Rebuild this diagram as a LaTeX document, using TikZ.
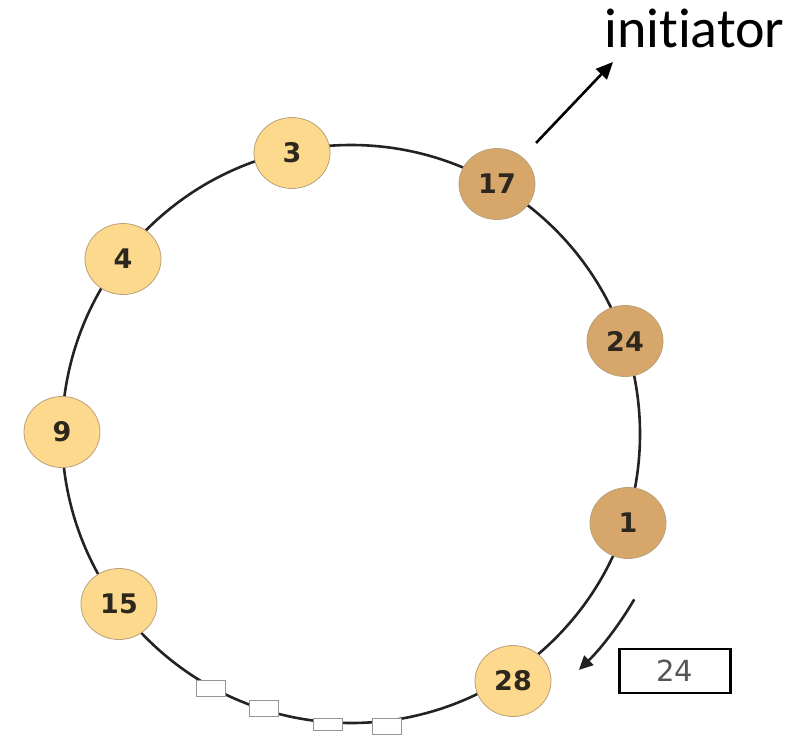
\documentclass[tikz,border=0pt]{standalone}
\usepackage{fontspec}
\setmainfont{DejaVu Sans}
\newfontfamily\labelfont[Ligatures=NoCommon]{Carlito}
\usetikzlibrary{shapes.geometric,arrows.meta}

\begin{document}
\begin{tikzpicture}[x=1pt,y=-1pt,line cap=rect,
	peer/.style={ellipse, minimum width=76pt, minimum height=71pt, inner sep=0pt, draw=col_edge, line width=0.8pt, fill=col_light, text=col_digit, font=\fontsize{27pt}{27pt}\bfseries\selectfont},
	visited/.style={peer, fill=col_dark},
	msg/.style={rectangle, draw=col_msg, fill=white, line width=1pt, minimum width=29pt, minimum height=16pt, inner sep=0pt},
	pointer/.style={line width=2.6pt, -{Triangle[length=17pt,width=15pt]}}]
	\definecolor{col_light}{RGB}{253, 217, 142}
	\definecolor{col_dark}{RGB}{214, 166, 107}
	\definecolor{col_edge}{RGB}{185, 160, 120}
	\definecolor{col_digit}{RGB}{45, 40, 30}
	\definecolor{col_ring}{RGB}{35, 35, 35}
	\definecolor{col_msg}{RGB}{150, 150, 150}
	\definecolor{col_boxtext}{RGB}{85, 85, 85}
	\useasboundingbox (0,0) rectangle (809,734);
	% the ring
	\coordinate (hub) at (351,434);
	\draw [line width=2.6pt, col_ring] (hub) circle (289);
	% messages travelling on the ring
	\node[msg] (m1) at (211,688) {};
	\node[msg] (m2) at (264,708) {};
	\node[msg, minimum height=12pt] (m3) at (328,724) {};
	\node[msg] (m4) at (387,726) {};
	% processes
	\node[peer] (n3) at (292,153) {3};
	\node[visited] (n17) at (497,184) {17};
	\node[visited] (n24) at (625,341) {24};
	\node[visited] (n1) at (628,523) {1};
	\node[peer] (n28) at (513,681) {28};
	\node[peer] (n15) at (119,604) {15};
	\node[peer] (n9) at (62,432) {9};
	\node[peer] (n4) at (123,259) {4};
	% token passed on to 28
	\draw [line width=2.6pt, col_ring, -{Triangle[length=14pt,width=13pt]}] (hub) ++(30.5:328) arc[start angle=30.5, end angle=46, radius=328];
	\node[draw, line width=2.8pt, minimum width=111pt, minimum height=44pt, inner sep=0pt, text=col_boxtext, font=\fontsize{29pt}{29pt}\selectfont] (token) at (675,671) {24};
	% initiator label
	\node[inner sep=0, anchor=base west, font=\labelfont\fontsize{56pt}{56pt}\selectfont] (initlabel) at (604,47) {initiator};
	\coordinate (tip) at (613,62);
	\draw [pointer, shorten <=21pt] (n17) -- (tip);
\end{tikzpicture}
\end{document}
